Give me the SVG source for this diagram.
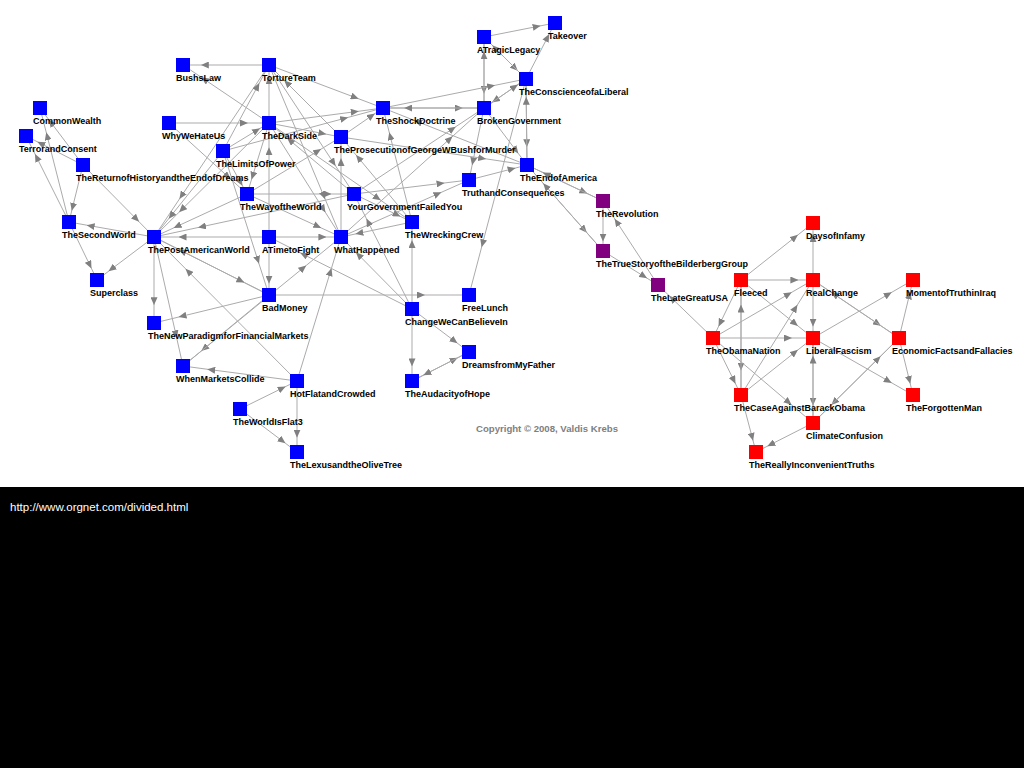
<svg xmlns="http://www.w3.org/2000/svg" width="1024" height="768" viewBox="0 0 1024 768">
<defs>
<marker id="arr" viewBox="0 0 8 7" refX="6" refY="3.5" markerWidth="8" markerHeight="7" markerUnits="userSpaceOnUse" orient="auto">
<path d="M0,0 L8,3.5 L0,7 z" fill="#808080"/>
</marker>
</defs>
<style>
.e{fill:none;stroke:#ababab;stroke-width:1;marker-mid:url(#arr)}
.b{fill:#0000ff}
.p{fill:#800080}
.r{fill:#ff0000}
text{font-family:"Liberation Sans",Arial,sans-serif;font-size:9px;font-weight:bold;fill:#000}
.cp{fill:#808080;font-size:9.6px}
.url{fill:#fff;font-size:11.5px;font-weight:normal}
</style>
<rect x="0" y="0" width="1024" height="487" fill="#fff"/>
<rect x="0" y="487" width="1024" height="281" fill="#000"/>
<g id="connectors">
<path class="e" d="M484,37 L538.7,26.2 L555,23"/>
<path class="e" d="M526,79 L548.3,35.9 L555,23"/>
<path class="e" d="M484,37 L484,91.7 L484,108"/>
<path class="e" d="M484,108 L484,53.3 L484,37"/>
<path class="e" d="M484,37 L516.3,69.3 L526,79"/>
<path class="e" d="M526,79 L493.7,46.7 L484,37"/>
<path class="e" d="M526,79 L493.7,101.3 L484,108"/>
<path class="e" d="M484,108 L516.3,85.7 L526,79"/>
<path class="e" d="M383,108 L493.1,85.7 L526,79"/>
<path class="e" d="M526,79 L526.8,145.2 L527,165"/>
<path class="e" d="M527,165 L526.2,98.8 L526,79"/>
<path class="e" d="M383,108 L460.8,108 L484,108"/>
<path class="e" d="M484,108 L406.2,108 L383,108"/>
<path class="e" d="M526,79 L482.1,245.3 L469,295"/>
<path class="e" d="M484,108 L517.1,151.9 L527,165"/>
<path class="e" d="M527,165 L585.5,192.7 L603,201"/>
<path class="e" d="M603,201 L544.5,173.3 L527,165"/>
<path class="e" d="M527,165 L585.5,231.2 L603,251"/>
<path class="e" d="M603,251 L544.5,184.8 L527,165"/>
<path class="e" d="M603,201 L603,239.5 L603,251"/>
<path class="e" d="M603,251 L645.4,277.2 L658,285"/>
<path class="e" d="M658,285 L615.7,220.3 L603,201"/>
<path class="e" d="M713,338 L670.7,297.2 L658,285"/>
<path class="e" d="M527,165 L416.1,121.1 L383,108"/>
<path class="e" d="M741,280 L796.4,236.1 L813,223"/>
<path class="e" d="M741,280 L796.4,280 L813,280"/>
<path class="e" d="M741,280 L796.4,324.7 L813,338"/>
<path class="e" d="M741,280 L719.4,324.7 L713,338"/>
<path class="e" d="M713,338 L790,293.3 L813,280"/>
<path class="e" d="M713,338 L790,338 L813,338"/>
<path class="e" d="M713,338 L734.6,381.9 L741,395"/>
<path class="e" d="M813,338 L813,403.5 L813,423"/>
<path class="e" d="M813,423 L813,357.6 L813,338"/>
<path class="e" d="M899,338 L832.8,403.5 L813,423"/>
<path class="e" d="M813,423 L879.2,357.6 L899,338"/>
<path class="e" d="M741,280 L741,368.6 L741,395"/>
<path class="e" d="M741,395 L741,306.5 L741,280"/>
<path class="e" d="M741,395 L796.4,306.5 L813,280"/>
<path class="e" d="M741,395 L796.4,351.1 L813,338"/>
<path class="e" d="M741,395 L752.6,438.9 L756,452"/>
<path class="e" d="M813,423 L769.1,445.3 L756,452"/>
<path class="e" d="M813,338 L890,293.3 L913,280"/>
<path class="e" d="M813,280 L879.2,324.7 L899,338"/>
<path class="e" d="M899,338 L832.8,293.3 L813,280"/>
<path class="e" d="M899,338 L909.8,293.3 L913,280"/>
<path class="e" d="M899,338 L909.8,381.9 L913,395"/>
<path class="e" d="M813,338 L890,381.9 L913,395"/>
<path class="e" d="M813,280 L813,324.7 L813,338"/>
<path class="e" d="M813,280 L813,236.1 L813,223"/>
<path class="e" d="M713,338 L790,403.5 L813,423"/>
<path class="e" d="M269,65 L202.8,65 L183,65"/>
<path class="e" d="M269,123 L202.8,78.3 L183,65"/>
<path class="e" d="M169,123 L246,123 L269,123"/>
<path class="e" d="M269,65 L356.8,98.1 L383,108"/>
<path class="e" d="M269,65 L180.5,197.4 L154,237"/>
<path class="e" d="M269,123 L180.5,210.8 L154,237"/>
<path class="e" d="M223,151 L169.9,217.2 L154,237"/>
<path class="e" d="M247,194 L175.4,227.1 L154,237"/>
<path class="e" d="M354,194 L200,227.1 L154,237"/>
<path class="e" d="M269,237 L180.5,237 L154,237"/>
<path class="e" d="M269,295 L180.5,250.3 L154,237"/>
<path class="e" d="M297,381 L186.9,270.1 L154,237"/>
<path class="e" d="M154,237 L242.6,281.7 L269,295"/>
<path class="e" d="M154,237 L88.6,225.5 L69,222"/>
<path class="e" d="M154,237 L110.1,270.1 L97,280"/>
<path class="e" d="M154,237 L154,303.2 L154,323"/>
<path class="e" d="M83,165 L137.7,220.4 L154,237"/>
<path class="e" d="M69,222 L90.6,266.7 L97,280"/>
<path class="e" d="M83,165 L72.2,208.9 L69,222"/>
<path class="e" d="M69,222 L35.9,155.8 L26,136"/>
<path class="e" d="M69,222 L46.7,134.2 L40,108"/>
<path class="e" d="M83,165 L39.1,142.7 L26,136"/>
<path class="e" d="M83,165 L49.9,121.1 L40,108"/>
<path class="e" d="M154,237 L176.3,336.3 L183,366"/>
<path class="e" d="M269,295 L180.5,316.6 L154,323"/>
<path class="e" d="M269,295 L202.8,349.7 L183,366"/>
<path class="e" d="M297,381 L209.2,369.5 L183,366"/>
<path class="e" d="M240,409 L283.9,387.4 L297,381"/>
<path class="e" d="M297,381 L297,435.7 L297,452"/>
<path class="e" d="M240,409 L283.9,442.1 L297,452"/>
<path class="e" d="M412,309 L412,364.4 L412,381"/>
<path class="e" d="M412,309 L455.9,342.1 L469,352"/>
<path class="e" d="M412,381 L455.9,358.7 L469,352"/>
<path class="e" d="M469,352 L425.1,374.3 L412,381"/>
<path class="e" d="M297,381 L330.9,270.1 L341,237"/>
<path class="e" d="M269,237 L324.4,237 L341,237"/>
<path class="e" d="M269,237 L269,281.7 L269,295"/>
<path class="e" d="M223,151 L258.4,84.8 L269,65"/>
<path class="e" d="M341,137 L285.6,81.6 L269,65"/>
<path class="e" d="M269,123 L356.8,111.5 L383,108"/>
<path class="e" d="M223,151 L346.2,117.9 L383,108"/>
<path class="e" d="M341,137 L373.3,114.7 L383,108"/>
<path class="e" d="M223,151 L241.5,184.1 L247,194"/>
<path class="e" d="M269,123 L252.1,177.7 L247,194"/>
<path class="e" d="M247,194 L329.4,194 L354,194"/>
<path class="e" d="M247,194 L319.4,227.1 L341,237"/>
<path class="e" d="M354,194 L442.6,183.2 L469,180"/>
<path class="e" d="M341,237 L439.6,193.1 L469,180"/>
<path class="e" d="M469,180 L513.7,168.5 L527,165"/>
<path class="e" d="M484,108 L472.5,163.4 L469,180"/>
<path class="e" d="M341,137 L484.2,158.6 L527,165"/>
<path class="e" d="M341,237 L451.1,137.7 L484,108"/>
<path class="e" d="M354,194 L454.1,127.8 L484,108"/>
<path class="e" d="M412,222 L389.7,134.2 L383,108"/>
<path class="e" d="M412,222 L357.3,156.5 L341,137"/>
<path class="e" d="M412,309 L412,242 L412,222"/>
<path class="e" d="M269,295 L423,295 L469,295"/>
<path class="e" d="M412,309 L301.9,253.6 L269,237"/>
<path class="e" d="M412,309 L357.3,253.6 L341,237"/>
<path class="e" d="M183,366 L304.7,266.7 L341,237"/>
<path class="e" d="M223,151 L258.4,261.9 L269,295"/>
<path class="e" d="M223,151 L258.4,129.4 L269,123"/>
<path class="e" d="M269,123 L324.4,133.8 L341,137"/>
<path class="e" d="M269,237 L269,149.2 L269,123"/>
<path class="e" d="M269,123 L269,78.3 L269,65"/>
<path class="e" d="M269,123 L324.4,210.8 L341,237"/>
<path class="e" d="M412,309 L367.3,220.4 L354,194"/>
<path class="e" d="M341,237 L341,160 L341,137"/>
<path class="e" d="M269,65 L324.4,197.4 L341,237"/>
<path class="e" d="M269,65 L334.5,164.3 L354,194"/>
<path class="e" d="M247,194 L319.4,150.1 L341,137"/>
<path class="e" d="M354,194 L288.6,139.3 L269,123"/>
<path class="e" d="M169,123 L229.1,177.7 L247,194"/>
<path class="e" d="M269,123 L379.1,199.2 L412,222"/>
<path class="e" d="M354,194 L398.7,215.6 L412,222"/>
<path class="e" d="M412,222 L357.3,233.6 L341,237"/>
</g>
<g id="n-Takeover"><rect class="b" x="548" y="16" width="14" height="14"/><text x="548" y="39">Takeover</text></g>
<g id="n-ATragicLegacy"><rect class="b" x="477" y="30" width="14" height="14"/><text x="477" y="53">ATragicLegacy</text></g>
<g id="n-TheConscienceofaLiberal"><rect class="b" x="519" y="72" width="14" height="14"/><text x="519" y="95">TheConscienceofaLiberal</text></g>
<g id="n-TheShockDoctrine"><rect class="b" x="376" y="101" width="14" height="14"/><text x="376" y="124">TheShockDoctrine</text></g>
<g id="n-BrokenGovernment"><rect class="b" x="477" y="101" width="14" height="14"/><text x="477" y="124">BrokenGovernment</text></g>
<g id="n-BushsLaw"><rect class="b" x="176" y="58" width="14" height="14"/><text x="176" y="81">BushsLaw</text></g>
<g id="n-TortureTeam"><rect class="b" x="262" y="58" width="14" height="14"/><text x="262" y="81">TortureTeam</text></g>
<g id="n-CommonWealth"><rect class="b" x="33" y="101" width="14" height="14"/><text x="33" y="124">CommonWealth</text></g>
<g id="n-TerrorandConsent"><rect class="b" x="19" y="129" width="14" height="14"/><text x="19" y="152">TerrorandConsent</text></g>
<g id="n-TheReturnofHistoryandtheEndofDreams"><rect class="b" x="76" y="158" width="14" height="14"/><text x="76" y="181">TheReturnofHistoryandtheEndofDreams</text></g>
<g id="n-WhyWeHateUs"><rect class="b" x="162" y="116" width="14" height="14"/><text x="162" y="139">WhyWeHateUs</text></g>
<g id="n-TheDarkSide"><rect class="b" x="262" y="116" width="14" height="14"/><text x="262" y="139">TheDarkSide</text></g>
<g id="n-TheProsecutionofGeorgeWBushforMurder"><rect class="b" x="334" y="130" width="14" height="14"/><text x="334" y="153">TheProsecutionofGeorgeWBushforMurder</text></g>
<g id="n-TheLimitsOfPower"><rect class="b" x="216" y="144" width="14" height="14"/><text x="216" y="167">TheLimitsOfPower</text></g>
<g id="n-TheEndofAmerica"><rect class="b" x="520" y="158" width="14" height="14"/><text x="520" y="181">TheEndofAmerica</text></g>
<g id="n-TruthandConsequences"><rect class="b" x="462" y="173" width="14" height="14"/><text x="462" y="196">TruthandConsequences</text></g>
<g id="n-TheWayoftheWorld"><rect class="b" x="240" y="187" width="14" height="14"/><text x="240" y="210">TheWayoftheWorld</text></g>
<g id="n-YourGovernmentFailedYou"><rect class="b" x="347" y="187" width="14" height="14"/><text x="347" y="210">YourGovernmentFailedYou</text></g>
<g id="n-TheWreckingCrew"><rect class="b" x="405" y="215" width="14" height="14"/><text x="405" y="238">TheWreckingCrew</text></g>
<g id="n-TheSecondWorld"><rect class="b" x="62" y="215" width="14" height="14"/><text x="62" y="238">TheSecondWorld</text></g>
<g id="n-ThePostAmericanWorld"><rect class="b" x="147" y="230" width="14" height="14"/><text x="148" y="253">ThePostAmericanWorld</text></g>
<g id="n-ATimetoFight"><rect class="b" x="262" y="230" width="14" height="14"/><text x="262" y="253">ATimetoFight</text></g>
<g id="n-WhatHappened"><rect class="b" x="334" y="230" width="14" height="14"/><text x="334" y="253">WhatHappened</text></g>
<g id="n-Superclass"><rect class="b" x="90" y="273" width="14" height="14"/><text x="90" y="296">Superclass</text></g>
<g id="n-BadMoney"><rect class="b" x="262" y="288" width="14" height="14"/><text x="262" y="311">BadMoney</text></g>
<g id="n-FreeLunch"><rect class="b" x="462" y="288" width="14" height="14"/><text x="462" y="311">FreeLunch</text></g>
<g id="n-ChangeWeCanBelieveIn"><rect class="b" x="405" y="302" width="14" height="14"/><text x="405" y="325">ChangeWeCanBelieveIn</text></g>
<g id="n-TheNewParadigmforFinancialMarkets"><rect class="b" x="147" y="316" width="14" height="14"/><text x="148" y="339">TheNewParadigmforFinancialMarkets</text></g>
<g id="n-DreamsfromMyFather"><rect class="b" x="462" y="345" width="14" height="14"/><text x="462" y="368">DreamsfromMyFather</text></g>
<g id="n-WhenMarketsCollide"><rect class="b" x="176" y="359" width="14" height="14"/><text x="176" y="382">WhenMarketsCollide</text></g>
<g id="n-HotFlatandCrowded"><rect class="b" x="290" y="374" width="14" height="14"/><text x="290" y="397">HotFlatandCrowded</text></g>
<g id="n-TheAudacityofHope"><rect class="b" x="405" y="374" width="14" height="14"/><text x="405" y="397">TheAudacityofHope</text></g>
<g id="n-TheWorldIsFlat3"><rect class="b" x="233" y="402" width="14" height="14"/><text x="233" y="425">TheWorldIsFlat3</text></g>
<g id="n-TheLexusandtheOliveTree"><rect class="b" x="290" y="445" width="14" height="14"/><text x="290" y="468">TheLexusandtheOliveTree</text></g>
<g id="n-TheRevolution"><rect class="p" x="596" y="194" width="14" height="14"/><text x="596" y="217">TheRevolution</text></g>
<g id="n-TheTrueStoryoftheBilderbergGroup"><rect class="p" x="596" y="244" width="14" height="14"/><text x="596" y="267">TheTrueStoryoftheBilderbergGroup</text></g>
<g id="n-TheLateGreatUSA"><rect class="p" x="651" y="278" width="14" height="14"/><text x="651" y="301">TheLateGreatUSA</text></g>
<g id="n-DaysofInfamy"><rect class="r" x="806" y="216" width="14" height="14"/><text x="806" y="239">DaysofInfamy</text></g>
<g id="n-Fleeced"><rect class="r" x="734" y="273" width="14" height="14"/><text x="734" y="296">Fleeced</text></g>
<g id="n-RealChange"><rect class="r" x="806" y="273" width="14" height="14"/><text x="806" y="296">RealChange</text></g>
<g id="n-MomentofTruthinIraq"><rect class="r" x="906" y="273" width="14" height="14"/><text x="906" y="296">MomentofTruthinIraq</text></g>
<g id="n-TheObamaNation"><rect class="r" x="706" y="331" width="14" height="14"/><text x="706" y="354">TheObamaNation</text></g>
<g id="n-LiberalFascism"><rect class="r" x="806" y="331" width="14" height="14"/><text x="806" y="354">LiberalFascism</text></g>
<g id="n-EconomicFactsandFallacies"><rect class="r" x="892" y="331" width="14" height="14"/><text x="892" y="354">EconomicFactsandFallacies</text></g>
<g id="n-TheCaseAgainstBarackObama"><rect class="r" x="734" y="388" width="14" height="14"/><text x="734" y="411">TheCaseAgainstBarackObama</text></g>
<g id="n-TheForgottenMan"><rect class="r" x="906" y="388" width="14" height="14"/><text x="906" y="411">TheForgottenMan</text></g>
<g id="n-ClimateConfusion"><rect class="r" x="806" y="416" width="14" height="14"/><text x="806" y="439">ClimateConfusion</text></g>
<g id="n-TheReallyInconvenientTruths"><rect class="r" x="749" y="445" width="14" height="14"/><text x="749" y="468">TheReallyInconvenientTruths</text></g>
<text class="cp" x="476" y="432">Copyright © 2008, Valdis Krebs</text>
<text class="url" x="10" y="511">http://www.orgnet.com/divided.html</text>
</svg>
